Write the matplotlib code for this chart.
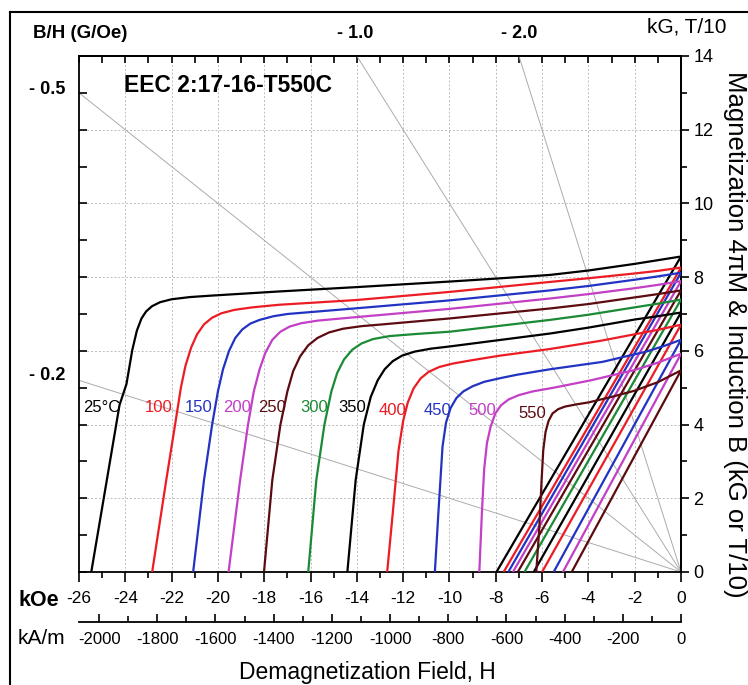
import matplotlib
matplotlib.use('Agg')
import matplotlib.pyplot as plt
from matplotlib.ticker import MultipleLocator, NullFormatter
from matplotlib.lines import Line2D

# Arial 계열 폰트
plt.rcParams['font.family'] = ['Liberation Sans', 'DejaVu Sans']
plt.rcParams['axes.unicode_minus'] = False

# ---- 데이터 ----
temps = ['25°C', '100', '150', '200', '250', '300', '350', '400', '450', '500', '550']

# 4πM 감자곡선 (H: kOe, M: kG)
h25 = [-25.47, -24.25, -23.95, -23.7, -23.5, -23.3, -23.1, -22.85, -22.5, -22.0, -21.2,
       -20.25, -17.4, -14.0, -10.0, -8.0, -5.66, -4.0, -2.0, -1.0, 0.0]
m25 = [0.0, 4.53, 5.1, 6.02, 6.55, 6.88, 7.07, 7.21, 7.32, 7.40, 7.46,
       7.50, 7.61, 7.73, 7.88, 7.96, 8.06, 8.18, 8.36, 8.46, 8.56]
h100 = [-22.84, -22.23, -21.85, -21.6, -21.4, -21.15, -20.9, -20.6, -20.25, -19.85, -19.3,
        -18.52, -17.37, -14.0, -9.98, -5.66, -4.0, -2.0, -1.0, 0.0]
m100 = [0.0, 2.5, 4.0, 5.0, 5.6, 6.1, 6.45, 6.72, 6.9, 7.02, 7.11,
        7.18, 7.25, 7.38, 7.6, 7.87, 7.97, 8.1, 8.17, 8.26]
h150 = [-21.07, -20.6, -20.25, -20.0, -19.78, -19.52, -19.25, -18.95, -18.6, -18.2, -17.6,
        -17.0, -14.3, -9.98, -5.66, -4.0, -2.0, -1.0, 0.0]
m150 = [0.0, 2.5, 4.0, 4.9, 5.5, 6.0, 6.35, 6.58, 6.74, 6.84, 6.94,
        7.0, 7.14, 7.37, 7.64, 7.76, 7.93, 8.02, 8.12]
h200 = [-19.54, -19.04, -18.7, -18.45, -18.2, -17.95, -17.65, -17.3, -16.9, -16.4, -15.7,
        -14.3, -9.98, -5.66, -4.0, -2.0, -1.0, 0.0]
m200 = [0.0, 2.5, 4.0, 4.9, 5.5, 5.95, 6.3, 6.52, 6.66, 6.75, 6.82,
        6.9, 7.14, 7.42, 7.54, 7.7, 7.79, 7.89]
h250 = [-18.01, -17.65, -17.3, -17.0, -16.75, -16.45, -16.1, -15.7, -15.2, -14.6, -13.8,
        -12.86, -9.98, -5.66, -4.0, -2.0, -1.0, 0.0]
m250 = [0.0, 2.5, 4.0, 4.9, 5.45, 5.85, 6.15, 6.35, 6.5, 6.6, 6.67,
        6.72, 6.88, 7.15, 7.27, 7.45, 7.54, 7.64]
h300 = [-16.1, -15.75, -15.4, -15.1, -14.85, -14.55, -14.2, -13.8, -13.3, -12.6, -11.4,
        -9.98, -5.66, -4.0, -2.0, -1.0, 0.0]
m300 = [0.0, 2.5, 4.0, 4.9, 5.4, 5.77, 6.03, 6.2, 6.32, 6.4, 6.46,
        6.52, 6.84, 6.98, 7.18, 7.28, 7.39]
h350 = [-14.41, -14.05, -13.7, -13.4, -13.1, -12.8, -12.45, -12.05, -11.5, -10.8,
        -9.98, -5.66, -4.0, -2.0, -1.0, 0.0]
m350 = [0.0, 2.5, 4.0, 4.75, 5.2, 5.5, 5.72, 5.87, 5.98, 6.06,
        6.12, 6.47, 6.63, 6.85, 6.94, 7.04]
h400 = [-12.69, -12.45, -12.2, -12.0, -11.8, -11.55, -11.25, -10.9, -10.45, -9.9, -9.0,
        -7.82, -5.66, -3.5, -2.0, -1.0, 0.0]
m400 = [0.0, 1.59, 3.3, 4.1, 4.6, 4.98, 5.25, 5.43, 5.56, 5.65, 5.75,
        5.87, 6.05, 6.27, 6.45, 6.57, 6.71]
h450 = [-10.63, -10.48, -10.3, -10.15, -9.95, -9.7, -9.4, -9.0, -8.5, -7.8, -7.1,
        -5.66, -3.4, -1.5, -0.7, 0.0]
m450 = [0.0, 1.59, 3.4, 4.05, 4.45, 4.72, 4.9, 5.04, 5.16, 5.26, 5.35,
        5.5, 5.7, 5.98, 6.14, 6.3]
h500 = [-8.71, -8.6, -8.5, -8.38, -8.22, -8.02, -7.78, -7.45, -7.0, -6.4, -5.5,
        -3.9, -2.0, -1.0, 0.0]
m500 = [0.0, 1.6, 2.8, 3.5, 3.95, 4.3, 4.52, 4.68, 4.8, 4.9, 5.0,
        5.2, 5.48, 5.68, 5.92]
h550 = [-6.25, -6.12, -6.02, -5.95, -5.85, -5.72, -5.55, -5.3, -5.0, -4.5, -4.0,
        -3.0, -2.0, -1.0, 0.0]
m550 = [0.0, 1.2, 2.5, 3.3, 3.8, 4.1, 4.3, 4.42, 4.49, 4.55, 4.6,
        4.75, 4.92, 5.15, 5.47]

curves_h = [h25, h100, h150, h200, h250, h300, h350, h400, h450, h500, h550]
curves_m = [m25, m100, m150, m200, m250, m300, m350, m400, m450, m500, m550]

# 유도 B 직선: H=0 에서의 Br, B=0 이 되는 H
br = [8.56, 8.26, 8.12, 7.89, 7.64, 7.39, 7.04, 6.71, 6.3, 5.92, 5.47]
h_b0 = [-7.97, -7.66, -7.46, -7.26, -7.05, -6.76, -6.36, -6.0, -5.5, -5.1, -4.72]

# 온도 라벨 위치 (H, B)
label_h = [-25.02, -22.55, -20.82, -19.18, -17.67, -15.85, -14.21, -12.46, -10.52, -8.57, -6.41]
label_b = [4.45, 4.45, 4.45, 4.45, 4.45, 4.45, 4.45, 4.39, 4.39, 4.39, 4.31]

# 퍼미언스 계수 B/H 직선
load_lines = [-0.2, -0.5, -1.0, -2.0]

colors = ['black', '#ec1c24', '#2233c4', '#c23fc6', '#5c0b10', '#1b8a35',
          'black', '#ec1c24', '#2233c4', '#c23fc6', '#5c0b10']

KA_PER_KOE = 79.577


def px(x, y):
    """픽셀 좌표 -> figure 좌표"""
    return x / 748, 1 - y / 685


fig = plt.figure(figsize=(7.48, 6.85), dpi=100)
ax = fig.add_axes([79 / 748, 1 - 572 / 685, 602 / 748, 516 / 685])
ax.set_xlim(-26, 0)
ax.set_ylim(0, 14)

# 그리드
for gx in range(-24, 0, 2):
    ax.axvline(gx, color='#bcbcbc', lw=0.7, ls=(0, (2, 2)), zorder=0)
for gy in range(2, 14, 2):
    ax.axhline(gy, color='#bcbcbc', lw=0.7, ls=(0, (2, 2)), zorder=0)

# B/H 직선
for s in load_lines:
    ax.plot([-26, 0], [s * -26, 0], color='#ababab', lw=0.7, zorder=1)

# 유도 B 직선
for b0, hz, c in zip(br, h_b0, colors):
    ax.plot([hz, 0], [0, b0], color=c, lw=1.6, zorder=3, solid_capstyle='butt')

# 4πM 곡선
for hh, mm, c in zip(curves_h, curves_m, colors):
    ax.plot(hh, mm, color=c, lw=1.6, zorder=4, solid_joinstyle='round')

for t, lx, ly, c in zip(temps, label_h, label_b, colors):
    ax.text(lx, ly, t, color=c, fontsize=12, ha='center', va='center', zorder=5)

ax.text(-24.05, 13.2, 'EEC 2:17-16-T550C', fontsize=16.5, fontweight='bold',
        ha='left', va='center')

# 축 스타일
for sp in ax.spines.values():
    sp.set_linewidth(1.3)

ax.xaxis.set_minor_locator(MultipleLocator(1))
ax.yaxis.set_major_locator(MultipleLocator(1))
ax.tick_params(axis='x', which='major', direction='out', length=7, width=1.2,
               labelsize=12.5, pad=7)
ax.tick_params(axis='x', which='minor', direction='out', length=4, width=1.2)
ax.tick_params(axis='y', which='major', direction='in', length=6, width=1.2,
               labelleft=False)
ax.set_xticks(range(-26, 1, 2))
ax.set_xticklabels([str(v) for v in range(-26, 1, 2)])

top = ax.secondary_xaxis('top')
top.xaxis.set_major_locator(MultipleLocator(1))
top.xaxis.set_major_formatter(NullFormatter())
top.tick_params(direction='in', length=5, width=1.2)
top.spines['top'].set_linewidth(1.3)

right = ax.secondary_yaxis('right')
right.yaxis.set_major_locator(MultipleLocator(2))
right.yaxis.set_minor_locator(MultipleLocator(1))
right.tick_params(which='major', direction='out', length=6, width=1.2,
                  labelsize=13, pad=3)
right.tick_params(which='minor', direction='out', length=4, width=1.2)
right.spines['right'].set_linewidth(1.3)

ka = ax.secondary_xaxis(-50 / 516, functions=(lambda h: h * KA_PER_KOE,
                                              lambda k: k / KA_PER_KOE))
ka.set_xticks(range(-2000, 1, 200))
ka.xaxis.set_minor_locator(MultipleLocator(100))
ka.tick_params(which='major', direction='in', length=6, width=1.2,
               labelsize=12, pad=7)
ka.tick_params(which='minor', direction='in', length=4, width=1.2)
ka.spines['bottom'].set_linewidth(1.3)

# 텍스트
fig.text(*px(18, 600), 'kOe', fontsize=15.5, fontweight='bold', va='center', ha='left')
fig.text(*px(18, 638), 'kA/m', fontsize=15, va='center', ha='left')
fig.text(*px(367, 673), 'Demagnetization Field, H', fontsize=16.5, va='center', ha='center')
fig.text(*px(33, 33), 'B/H (G/Oe)', fontsize=13.5, fontweight='bold', va='center', ha='left')
fig.text(*px(355, 33), '- 1.0', fontsize=13, fontweight='bold', va='center', ha='center')
fig.text(*px(519, 33), '- 2.0', fontsize=13, fontweight='bold', va='center', ha='center')
fig.text(*px(47, 90), '- 0.5', fontsize=13, fontweight='bold', va='center', ha='center')
fig.text(*px(47, 375), '- 0.2', fontsize=13, fontweight='bold', va='center', ha='center')
fig.text(*px(687, 27), 'kG, T/10', fontsize=15, va='center', ha='center')
fig.text(*px(735, 334), 'Magnetization 4πM & Induction B (kG or T/10)', fontsize=18.5,
         rotation=270, va='center', ha='center')

# 바깥 테두리
fig.add_artist(Line2D([10 / 748, 10 / 748], [0, 1 - 12 / 685], color='black', lw=1.5,
                      transform=fig.transFigure))
fig.add_artist(Line2D([10 / 748, 1], [1 - 12 / 685, 1 - 12 / 685], color='black', lw=1.5,
                      transform=fig.transFigure))

fig.savefig('out.png', dpi=100)
